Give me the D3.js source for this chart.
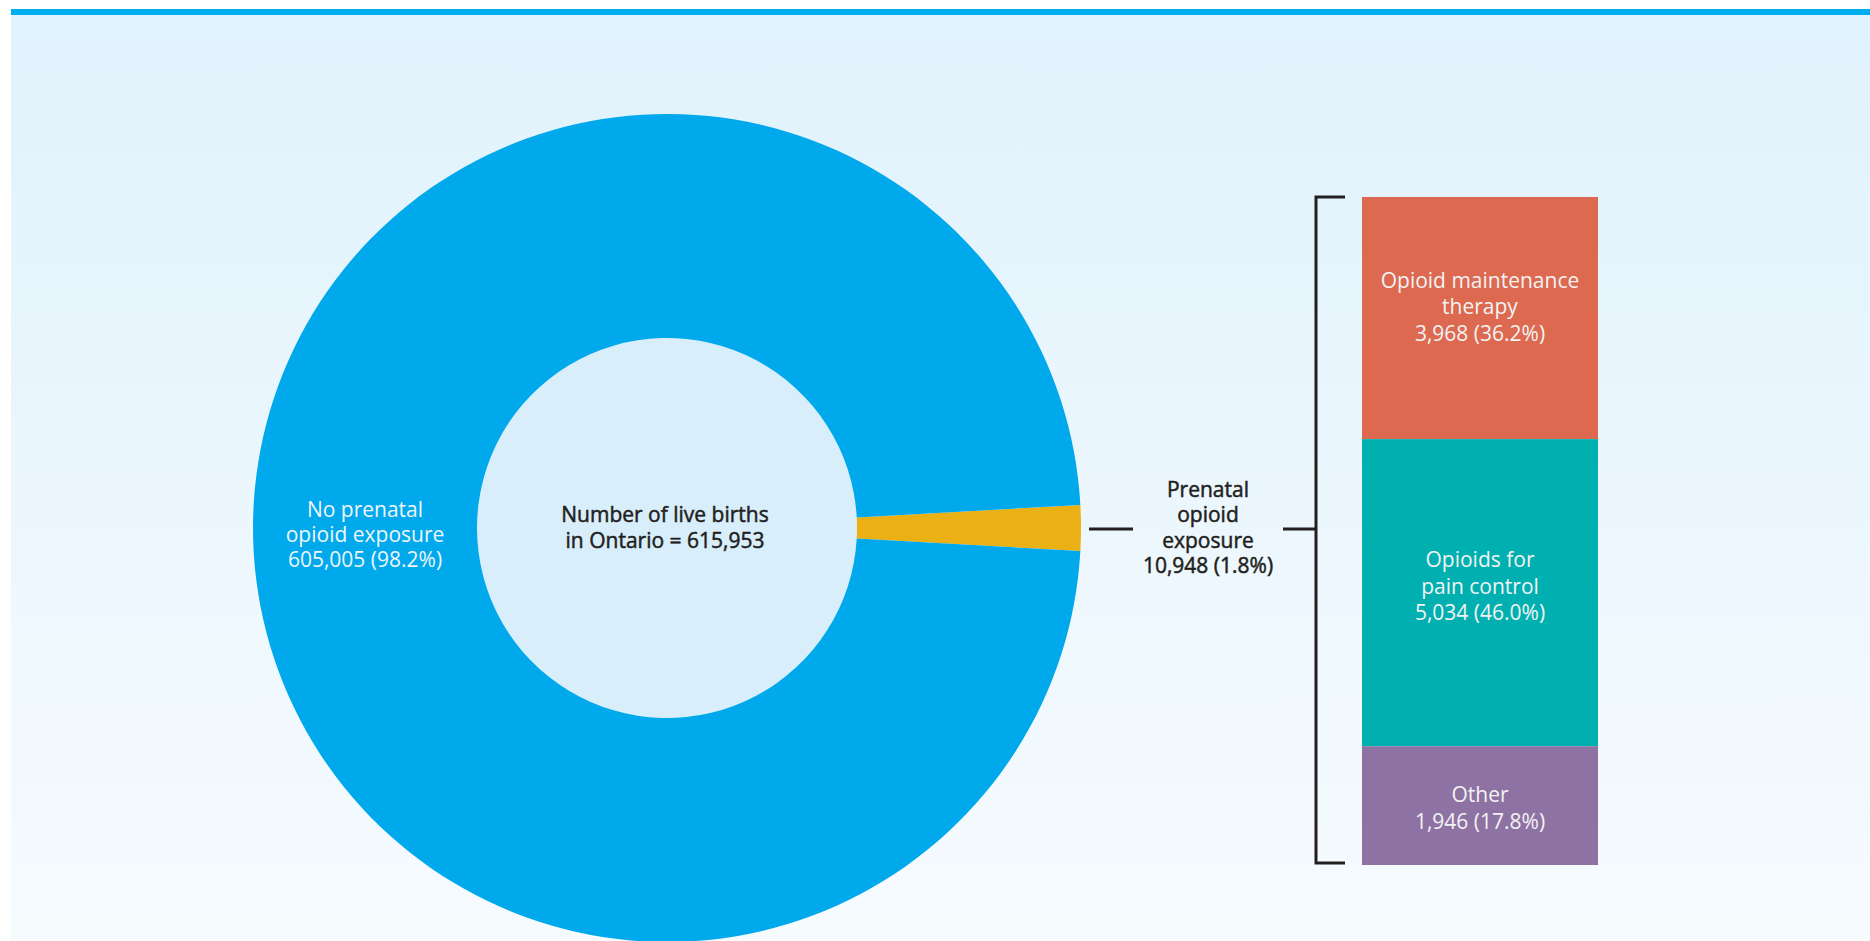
<!DOCTYPE html>
<html>
<head>
<meta charset="utf-8">
<script src="https://cdn.jsdelivr.net/npm/d3@7"></script>
<style>
  html, body { margin: 0; padding: 0; background: #ffffff; }
  svg { display: block; }
  text { font-family: "Open Sans", "Noto Sans", sans-serif; }
</style>
</head>
<body>
<svg id="chart" width="1870" height="941"></svg>
<script>
// ---- data ----
const totalLabel = ["Number of live births", "in Ontario = 615,953"];
const donutCategories = ["Prenatal opioid exposure", "No prenatal opioid exposure"];
const donutValues = [10948, 605005];
const donutLabels = [
  ["Prenatal", "opioid", "exposure", "10,948 (1.8%)"],
  ["No prenatal", "opioid exposure", "605,005 (98.2%)"]
];
const barCategories = ["Opioid maintenance therapy", "Opioids for pain control", "Other"];
const barValues = [3968, 5034, 1946];
const barLabels = [
  ["Opioid maintenance", "therapy", "3,968 (36.2%)"],
  ["Opioids for", "pain control", "5,034 (46.0%)"],
  ["Other", "1,946 (17.8%)"]
];

// ---- styles / layout ----
const donutColors = ["#ebb114", "#00a8ec"];
const barColors = ["#dc6950", "#00b0b0", "#8e72a3"];
const barLabelShift = [-11, -6, 3];
const dark = "#231f20";
const W = 1870, H = 941;

const svg = d3.select("#chart");
const defs = svg.append("defs");
const grad = defs.append("linearGradient").attr("id", "bg").attr("x1", 0).attr("y1", 0).attr("x2", 0).attr("y2", 1);
grad.append("stop").attr("offset", "0%").attr("stop-color", "#e0f2fc");
grad.append("stop").attr("offset", "100%").attr("stop-color", "#f6fbfe");

svg.append("rect").attr("x", 11).attr("y", 15).attr("width", W - 11).attr("height", H - 15).attr("fill", "url(#bg)");
svg.append("rect").attr("x", 11).attr("y", 9).attr("width", W - 11).attr("height", 6).attr("fill", "#00aeef");

// ---- donut ----
const cx = 667, cy = 528, rOuter = 414, rInner = 190;
const total = d3.sum(donutValues);
const firstAngle = donutValues[0] / total * 2 * Math.PI;
const pie = d3.pie().sort(null).value(d => d)
  .startAngle(Math.PI / 2 - firstAngle / 2)
  .endAngle(Math.PI / 2 - firstAngle / 2 + 2 * Math.PI);
const arcs = pie(donutValues);
const arc = d3.arc().innerRadius(rInner).outerRadius(rOuter);
const g = svg.append("g").attr("transform", `translate(${cx},${cy})`);
g.append("circle").attr("r", rInner).attr("fill", "#d9eefb");
g.selectAll("path.slice").data(arcs).join("path")
  .attr("class", "slice")
  .attr("d", arc)
  .attr("fill", (d, i) => donutColors[i]);

function multiline(sel, lines, x, yCenter, lh, color, strokeW, size) {
  const n = lines.length;
  const t = sel.append("text").attr("text-anchor", "middle").attr("fill", color)
    .attr("font-size", size).attr("font-weight", 400)
    .attr("stroke", color).attr("stroke-width", strokeW);
  lines.forEach((l, i) => {
    t.append("tspan").attr("x", x).attr("y", yCenter + (i - (n - 1) / 2) * lh + 7).text(l);
  });
  return t;
}

// blue slice label at its centroid
const c1 = arc.centroid(arcs[1]);
multiline(g, donutLabels[1], c1[0], c1[1] + 7, 25, "#eef6fb", 0, 21);
// center label
multiline(g, totalLabel, -2, 0, 26, dark, 0.5, 21);

// ---- stacked bar ----
const barX = 1362, barW = 236, barTop = 197, barBottom = 865;
const y = d3.scaleLinear().domain([0, d3.sum(barValues)]).range([barTop, barBottom]);
let acc = 0;
const stacked = barValues.map((v, i) => { const s = acc; acc += v; return { i, y0: s, y1: acc }; });
svg.selectAll("rect.bar").data(stacked).join("rect")
  .attr("class", "bar")
  .attr("x", barX).attr("width", barW)
  .attr("y", d => y(d.y0)).attr("height", d => y(d.y1) - y(d.y0))
  .attr("fill", d => barColors[d.i]);
stacked.forEach(d => {
  multiline(svg, barLabels[d.i], barX + barW / 2, (y(d.y0) + y(d.y1)) / 2 + barLabelShift[d.i], 26.5, "#f3f3f3", 0, 21);
});

// ---- bracket & connectors ----
const lineY = cy + 1;
const bx = 1316;
svg.append("line").attr("x1", 1089).attr("x2", 1133).attr("y1", lineY).attr("y2", lineY)
  .attr("stroke", dark).attr("stroke-width", 3);
svg.append("line").attr("x1", 1283).attr("x2", bx).attr("y1", lineY).attr("y2", lineY)
  .attr("stroke", dark).attr("stroke-width", 3);
svg.append("path")
  .attr("d", `M1345,${y(0)} H${bx} V${y(d3.sum(barValues)) - 2} H1345`)
  .attr("fill", "none").attr("stroke", dark).attr("stroke-width", 3);

multiline(svg, donutLabels[0], 1208, lineY - 1, 25.5, dark, 0.5, 21);
</script>
</body>
</html>
